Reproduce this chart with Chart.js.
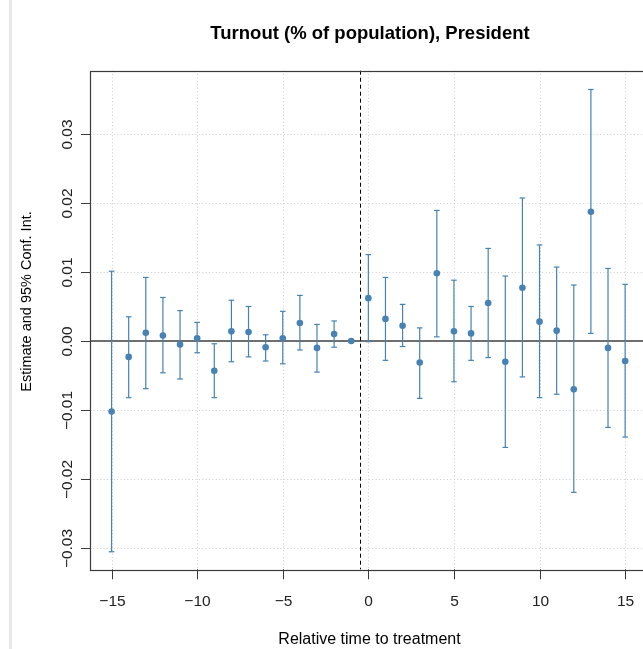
<!DOCTYPE html>
<html>
<head>
<meta charset="utf-8">
<title>Turnout event study</title>
<script src="https://cdn.jsdelivr.net/npm/chart.js@4/dist/chart.umd.min.js"></script>
<style>
  html, body { margin: 0; padding: 0; background: #fff; overflow: hidden; }
  #wrap { position: relative; width: 643px; height: 649px; overflow: hidden; }
  #strip { position: absolute; left: 9px; top: 0; width: 3px; height: 649px; background: #e8e8e8; }
  canvas { position: absolute; left: 0; top: 0; }
</style>
</head>
<body>
<div id="wrap">
  <div id="strip"></div>
  <canvas id="c" width="650" height="649"></canvas>
</div>
<script>
// Event-study estimates: relative time to treatment, point estimate, 95% CI bounds
const relTime = [-15, -14, -13, -12, -11, -10, -9, -8, -7, -6, -5, -4, -3, -2, -1,
                 0, 1, 2, 3, 4, 5, 6, 7, 8, 9, 10, 11, 12, 13, 14, 15];
const estimate = [-0.0102, -0.0023, 0.0012, 0.0008, -0.0005, 0.0004, -0.0043, 0.0014,
                  0.0013, -0.0009, 0.0004, 0.0026, -0.0010, 0.0010, 0.0000,
                  0.0062, 0.0032, 0.0022, -0.0031, 0.0098, 0.0014, 0.0011, 0.0055,
                  -0.0030, 0.0077, 0.0028, 0.0015, -0.0070, 0.0187, -0.0010, -0.0029];
const ciLower = [-0.0305, -0.0082, -0.0069, -0.0046, -0.0055, -0.0017, -0.0082, -0.0030,
                 -0.0023, -0.0029, -0.0033, -0.0013, -0.0045, -0.0009, null,
                 -0.0001, -0.0028, -0.0008, -0.0083, 0.0006, -0.0059, -0.0028, -0.0024,
                 -0.0154, -0.0052, -0.0082, -0.0077, -0.0219, 0.0011, -0.0125, -0.0139];
const ciUpper = [0.0101, 0.0035, 0.0092, 0.0063, 0.0044, 0.0027, -0.0004, 0.0059,
                 0.0050, 0.0009, 0.0043, 0.0066, 0.0024, 0.0029, null,
                 0.0125, 0.0092, 0.0053, 0.0019, 0.0189, 0.0088, 0.0050, 0.0134,
                 0.0094, 0.0207, 0.0139, 0.0107, 0.0081, 0.0364, 0.0105, 0.0082];
const xTickValues = [-15, -10, -5, 0, 5, 10, 15];
const yTickValues = [-0.03, -0.02, -0.01, 0.00, 0.01, 0.02, 0.03];
const treatmentCut = -0.5;

const titleText = 'Turnout (% of population), President';
const xLabelText = 'Relative time to treatment';
const yLabelText = 'Estimate and 95% Conf. Int.';

const BLUE = '#4682B4';
const FONT = '"Liberation Sans", Arial, Helvetica, sans-serif';
const minus = s => s.replace('-', '\u2212');

function seg(ctx, x1, y1, x2, y2) {
  ctx.beginPath(); ctx.moveTo(x1, y1); ctx.lineTo(x2, y2); ctx.stroke();
}

const decorations = {
  id: 'decorations',
  beforeDatasetsDraw(chart) {
    const { ctx, chartArea: a, scales: { x, y } } = chart;
    ctx.save();
    // dotted grid at tick positions
    ctx.strokeStyle = '#cccccc';
    ctx.lineWidth = 1;
    ctx.setLineDash([1, 2.4]);
    xTickValues.forEach(v => {
      const px = Math.round(x.getPixelForValue(v)) + 0.5;
      seg(ctx, px, a.top, px, a.bottom);
    });
    yTickValues.forEach(v => {
      const py = Math.round(y.getPixelForValue(v)) + 0.5;
      seg(ctx, a.left, py, a.right, py);
    });
    // zero reference line
    ctx.setLineDash([]);
    ctx.strokeStyle = '#6f6f6f';
    ctx.lineWidth = 1.8;
    const y0 = y.getPixelForValue(0);
    seg(ctx, a.left, y0, a.right, y0);
    // treatment onset
    ctx.strokeStyle = '#000';
    ctx.lineWidth = 1;
    ctx.setLineDash([4, 3]);
    const xc = Math.round(x.getPixelForValue(treatmentCut)) + 0.5;
    seg(ctx, xc, a.top, xc, a.bottom);
    // confidence intervals
    ctx.setLineDash([]);
    ctx.strokeStyle = BLUE;
    ctx.lineWidth = 1.2;
    const cap = 2.8;
    relTime.forEach((t, i) => {
      if (ciLower[i] === null || ciUpper[i] === null) return;
      const px = x.getPixelForValue(t);
      const pl = y.getPixelForValue(ciLower[i]);
      const pu = y.getPixelForValue(ciUpper[i]);
      seg(ctx, px, pl, px, pu);
      seg(ctx, px - cap, pl, px + cap, pl);
      seg(ctx, px - cap, pu, px + cap, pu);
    });
    ctx.restore();
  },
  afterDraw(chart) {
    const { ctx, chartArea: a, scales: { x, y } } = chart;
    ctx.save();
    // plot frame
    ctx.strokeStyle = '#3a3a3a';
    ctx.lineWidth = 1.2;
    ctx.strokeRect(Math.round(a.left) + 0.5, Math.round(a.top) + 0.5,
                   Math.round(a.right - a.left), Math.round(a.bottom - a.top));
    // tick marks and tick labels
    ctx.lineWidth = 1;
    ctx.fillStyle = '#222';
    ctx.font = '15.5px ' + FONT;
    ctx.textAlign = 'center';
    ctx.textBaseline = 'alphabetic';
    xTickValues.forEach(v => {
      const px = Math.round(x.getPixelForValue(v)) + 0.5;
      seg(ctx, px, a.bottom, px, a.bottom + 10);
      ctx.fillText(minus(String(v)), px, 605.5);
    });
    yTickValues.forEach(v => {
      const py = Math.round(y.getPixelForValue(v)) + 0.5;
      seg(ctx, a.left - 9, py, a.left, py);
      ctx.save();
      ctx.translate(71.5, py);
      ctx.rotate(-Math.PI / 2);
      ctx.fillText(minus(v.toFixed(2)), 0, 0);
      ctx.restore();
    });
    // title and axis titles
    ctx.fillStyle = '#000';
    ctx.font = 'bold 18.5px ' + FONT;
    ctx.fillText(titleText, 370, 38.5);
    ctx.font = '16px ' + FONT;
    ctx.fillText(xLabelText, 369.5, 643.5);
    ctx.save();
    ctx.font = '14.5px ' + FONT;
    ctx.translate(30.5, 301.5);
    ctx.rotate(-Math.PI / 2);
    ctx.fillText(yLabelText, 0, 0);
    ctx.restore();
    ctx.restore();
  }
};

new Chart(document.getElementById('c'), {
  type: 'scatter',
  data: {
    datasets: [{
      label: 'Estimate',
      data: relTime.map((t, i) => ({ x: t, y: estimate[i] })),
      backgroundColor: BLUE,
      borderColor: BLUE,
      borderWidth: 0,
      pointRadius: 3.3,
      pointHoverRadius: 3.3
    }]
  },
  options: {
    responsive: false,
    animation: false,
    events: [],
    layout: { padding: { top: 70.7, left: 0, right: 1.6, bottom: 0 } },
    plugins: { legend: { display: false }, tooltip: { enabled: false }, title: { display: false } },
    scales: {
      x: {
        type: 'linear',
        min: -16.26, max: 16.26,
        grid: { display: false },
        border: { display: false },
        ticks: { display: false },
        afterBuildTicks: s => { s.ticks = xTickValues.map(v => ({ value: v })); },
        afterFit: s => { s.height = 79.7; }
      },
      y: {
        type: 'linear',
        min: -0.03304, max: 0.03912,
        grid: { display: false },
        border: { display: false },
        ticks: { display: false },
        afterBuildTicks: s => { s.ticks = yTickValues.map(v => ({ value: v })); },
        afterFit: s => { s.width = 90; }
      }
    }
  },
  plugins: [decorations]
});
</script>
</body>
</html>
